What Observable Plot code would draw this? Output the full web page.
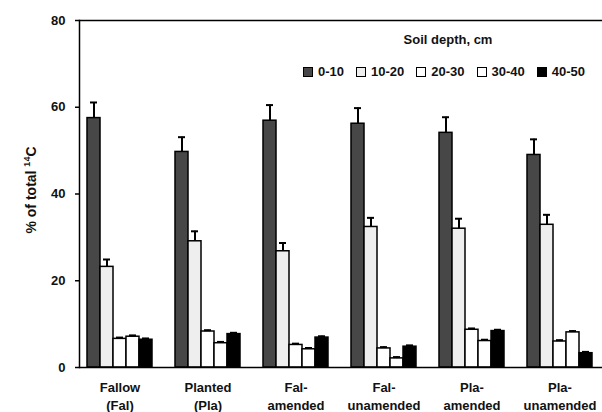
<!DOCTYPE html>
<html>
<head>
<meta charset="utf-8">
<script src="https://cdn.jsdelivr.net/npm/d3@7"></script>
<script src="https://cdn.jsdelivr.net/npm/@observablehq/plot@0.6"></script>
<style>
  html, body { margin: 0; padding: 0; background: #fff; }
  #wrap { position: relative; width: 602px; height: 412px; font-family: "Liberation Sans", Arial, sans-serif; }
  #legend { position: absolute; left: 303px; top: 32px; font-weight: bold; font-size: 13px; color: #111; }
  #legend .title { position: absolute; left: 0; top: 0; width: 290px; text-align: center; white-space: nowrap; }
  #legend .row { position: absolute; left: 0; top: 32px; display: flex; gap: 12px; white-space: nowrap; align-items: center; }
  #legend .item { display: flex; align-items: center; gap: 5px; }
  #legend .sw { width: 8px; height: 8px; border: 1.5px solid #000; }
  #ylabel { position: absolute; left: 30px; top: 190px; transform: translate(-50%, -50%) rotate(-90deg); white-space: nowrap; font-weight: bold; font-size: 14px; color: #111; }
  #ylabel sup { font-size: 9px; vertical-align: 6px; }
  svg text { font-family: "Liberation Sans", Arial, sans-serif; font-weight: bold; fill: #111; }
</style>
</head>
<body>
<div id="wrap"></div>
<script>
const groups = ["Fallow (Fal)", "Planted (Pla)", "Fal-amended", "Fal-unamended", "Pla-amended", "Pla-unamended"];
const groupLabels = ["Fallow\n(Fal)", "Planted\n(Pla)", "Fal-\namended", "Fal-\nunamended", "Pla-\namended", "Pla-\nunamended"];
const depths = ["0-10", "10-20", "20-30", "30-40", "40-50"];
const depthFills = ["#474747", "#eeeeee", "#ffffff", "#ffffff", "#000000"];
const yTicks = [0, 20, 40, 60, 80];

const d0_10  = [57.5, 49.7, 56.9, 56.2, 54.1, 49.0];
const e0_10  = [3.6, 3.4, 3.6, 3.6, 3.6, 3.6];
const d10_20 = [23.2, 29.1, 26.8, 32.4, 32.0, 32.9];
const e10_20 = [1.7, 2.3, 1.9, 2.1, 2.3, 2.3];
const d20_30 = [6.6, 8.3, 5.2, 4.4, 8.7, 6.0];
const e20_30 = [0.3, 0.3, 0.3, 0.3, 0.3, 0.3];
const d30_40 = [7.1, 5.6, 4.2, 2.1, 6.1, 8.1];
const e30_40 = [0.3, 0.3, 0.3, 0.3, 0.3, 0.3];
const d40_50 = [6.4, 7.7, 6.9, 4.8, 8.4, 3.3];
const e40_50 = [0.3, 0.3, 0.3, 0.3, 0.3, 0.3];

const series = [[d0_10, e0_10], [d10_20, e10_20], [d20_30, e20_30], [d30_40, e30_40], [d40_50, e40_50]];
const data = [];
groups.forEach((g, gi) => {
  depths.forEach((d, di) => {
    const v = series[di][0][gi], e = series[di][1][gi];
    data.push({group: g, depth: d, value: v, hi: v + e});
  });
});
const frameLines = groups.flatMap((g) => [0, 80].map((y) => ({group: g, y})));

const chart = Plot.plot({
  width: 602,
  height: 412,
  marginLeft: 77,
  marginRight: 0,
  marginTop: 20,
  marginBottom: 45,
  fx: {domain: groups, paddingInner: 0.22, paddingOuter: 0.07, label: null, axis: null},
  x: {domain: depths, axis: null, padding: 0},
  y: {domain: [0, 80], axis: null},
  color: {domain: depths, range: depthFills},
  marks: [
    Plot.barY(data, {fx: "group", x: "depth", y: "value", fill: "depth", stroke: "#000", strokeWidth: 1.5}),
    Plot.ruleX(data, {fx: "group", x: "depth", y1: "value", y2: "hi", stroke: "#000", strokeWidth: 2}),
    Plot.tickY(data, {fx: "group", x: "depth", y: "hi", stroke: "#000", strokeWidth: 2, insetLeft: 3, insetRight: 3}),
    Plot.ruleY(frameLines, {fx: "group", y: "y", stroke: "#000", strokeWidth: 1.5, insetLeft: -6, insetRight: -13}),
    Plot.frame({anchor: "left", facetAnchor: "left", dx: -6, stroke: "#000", strokeWidth: 1.5}),
    Plot.axisY({ticks: yTicks, tickSize: 4, tickPadding: 10, dx: -6, label: null, fontSize: 13, fontWeight: "bold", stroke: "#000", strokeWidth: 1.5}),
    Plot.axisFx({anchor: "bottom", tickSize: 0, tickPadding: 12, lineHeight: 1.35, fontSize: 13, fontWeight: "bold", label: null,
      tickFormat: (d) => groupLabels[groups.indexOf(d)]})
  ]
});

const wrap = document.getElementById("wrap");
wrap.appendChild(chart);

const ylab = document.createElement("div");
ylab.id = "ylabel";
ylab.innerHTML = "% of total <sup>14</sup>C";
wrap.appendChild(ylab);

const legend = document.createElement("div");
legend.id = "legend";
legend.innerHTML = `<div class="title">Soil depth, cm</div>`;
const row = document.createElement("div");
row.className = "row";
depths.forEach((d, i) => {
  const it = document.createElement("div");
  it.className = "item";
  it.innerHTML = `<span class="sw" style="background:${depthFills[i]}"></span><span>${d}</span>`;
  row.appendChild(it);
});
legend.appendChild(row);
wrap.appendChild(legend);
</script>
</body>
</html>
